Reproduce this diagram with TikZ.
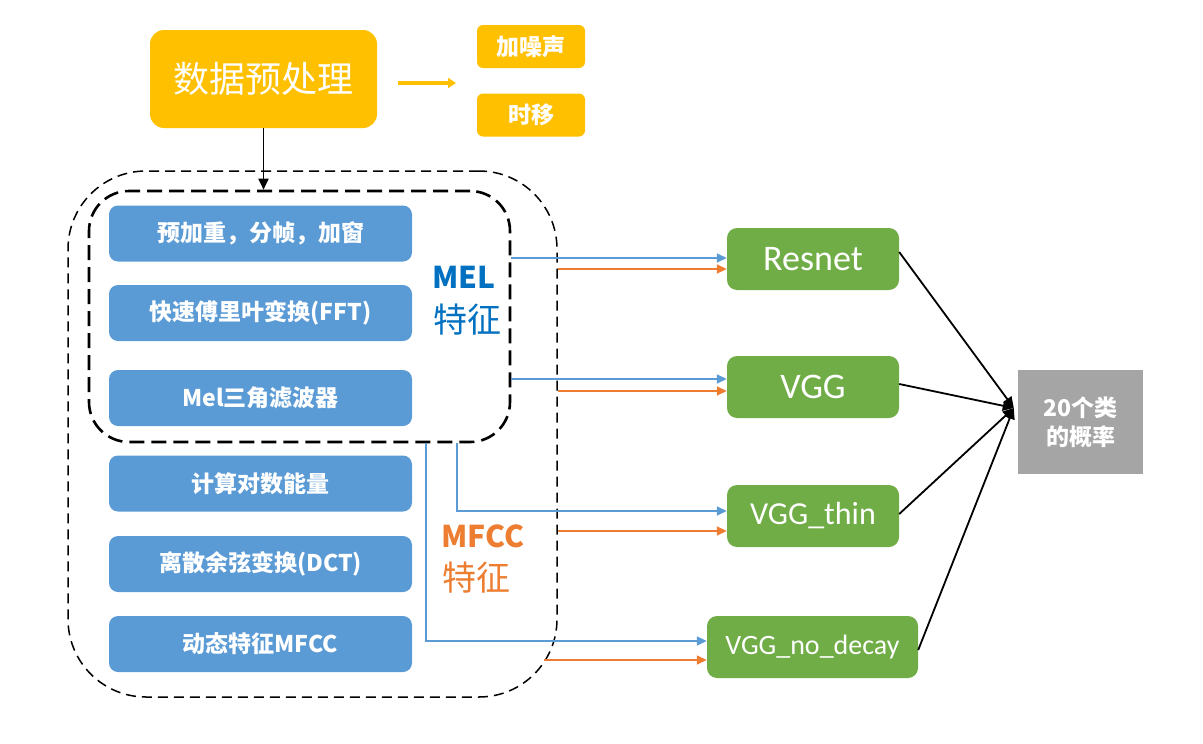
\documentclass[tikz,border=0pt]{standalone}
\usepackage{fontspec}
\setmainfont{Carlito}
\newfontfamily\cjk{Noto Sans CJK SC}
\usetikzlibrary{arrows.meta,calc}
\definecolor{cYel}{HTML}{FFC000}
\definecolor{cBlue}{HTML}{5B9BD5}
\definecolor{cGreen}{HTML}{70AD47}
\definecolor{cGray}{HTML}{A5A5A5}
\definecolor{cMel}{HTML}{0070C0}
\definecolor{cOra}{HTML}{ED7D31}
\tikzset{
  prebox/.style={fill=cYel,rounded corners=14pt,minimum width=227pt,minimum height=98pt,text=white,font=\cjk\fontsize{36}{40}\selectfont},
  augbox/.style={fill=cYel,rounded corners=6pt,minimum width=108pt,minimum height=43pt,text=white,font=\cjk\bfseries\fontsize{23}{26}\selectfont},
  stepbox/.style={fill=cBlue,rounded corners=9pt,minimum width=303pt,minimum height=56pt,text=white,font=\cjk\bfseries\fontsize{23}{26}\selectfont},
  netbox/.style={fill=cGreen,rounded corners=10pt,minimum width=172pt,minimum height=62pt,text=white,font=\fontsize{32}{36}\selectfont},
  outbox/.style={fill=cGray,minimum width=125pt,minimum height=104pt,text=white,align=center,font=\cjk\bfseries\fontsize{23}{29}\selectfont},
  blueln/.style={draw=cBlue,line width=1.5pt,-{Triangle[length=10pt,width=9pt]}},
  orangeln/.style={draw=cOra,line width=1.5pt,-{Triangle[length=10pt,width=9pt]}},
  blackln/.style={draw=black,line width=1.8pt,-{Triangle[length=11pt,width=10pt]}},
}
\begin{document}
\begin{tikzpicture}[x=1pt,y=-1pt]
\useasboundingbox (0,0) rectangle (1203,744);
% preprocessing
\node[prebox] (pre) at (263.5,79) {数据预处理};
\node[augbox] (noise) at (531,46.5) {加噪声};
\node[augbox] (shift) at (531,115) {时移};
\coordinate (oa1) at (398,83);
\coordinate (oa2) at (456,83);
\draw[draw=cYel,line width=4pt,-{Triangle[length=8pt,width=10pt]}] (oa1) -- (oa2);
% dashed containers
\node[draw,line width=1.5pt,dash pattern=on 10pt off 6pt,rounded corners=78pt,minimum width=489pt,minimum height=526pt] (mfcc) at (312.5,434) {};
\node[draw,line width=2.6pt,dash pattern=on 15pt off 7pt,rounded corners=40pt,minimum width=421pt,minimum height=251pt] (mel) at (299.5,316.5) {};
\draw[blackln] (pre.south) -- (pre.south |- mel.north);
% steps
\node[stepbox] (s1) at (260.5,233.5) {预加重，分帧，加窗};
\node[stepbox] (s2) at (260.5,313) {快速傅里叶变换(FFT)};
\node[stepbox] (s3) at (260.5,398) {Mel三角滤波器};
\node[stepbox] (s4) at (260.5,483.5) {计算对数能量};
\node[stepbox] (s5) at (260.5,564) {离散余弦变换(DCT)};
\node[stepbox] (s6) at (260.5,644) {动态特征MFCC};
% labels
\node[text=cMel,font=\cjk\bfseries\fontsize{30}{34}\selectfont] (mellab) at (464,277) {MEL};
\node[text=cMel,font=\cjk\fontsize{34}{38}\selectfont] (meltz) at (467,320) {特征};
\node[text=cOra,font=\cjk\bfseries\fontsize{30}{34}\selectfont] (mfcclab) at (483,536) {MFCC};
\node[text=cOra,font=\cjk\fontsize{34}{38}\selectfont] (mfcctz) at (476,578) {特征};
% networks
\node[netbox,font=\fontsize{36}{40}\selectfont] (resnet) at (813,259) {Resnet};
\node[netbox,font=\fontsize{36}{40}\selectfont] (vgg) at (813,387) {VGG};
\node[netbox] (thin) at (813,516) {VGG\_thin};
\node[netbox,minimum width=211pt,font=\fontsize{28}{32}\selectfont] (nodecay) at (812.5,647) {VGG\_no\_decay};
\node[outbox] (prob) at (1080.5,422) {20个类\\的概率};
% feature connectors
\coordinate (r1) at ([yshift=1pt]resnet.west);
\coordinate (r2) at ([yshift=-10pt]resnet.west);
\coordinate (v1) at ([yshift=8pt]vgg.west);
\coordinate (v2) at ([yshift=-4pt]vgg.west);
\coordinate (t1) at ([yshift=5pt]thin.west);
\coordinate (t2) at ([yshift=-15pt]thin.west);
\coordinate (n1) at ([yshift=6pt]nodecay.west);
\coordinate (n2) at ([yshift=-13pt]nodecay.west);
\coordinate (m1) at ([xshift=126.5pt]mel.south);
\coordinate (m2) at ([xshift=157.5pt]mel.south);
\coordinate (n2b) at (mfcc.east |- n2);
\draw[blueln] (mel.east |- r1) -- (r1);
\draw[orangeln] (mfcc.east |- r2) -- (r2);
\draw[blueln] (mel.east |- v1) -- (v1);
\draw[orangeln] (mfcc.east |- v2) -- (v2);
\draw[blueln] (m2) |- (t1);
\draw[orangeln] (mfcc.east |- t2) -- (t2);
\draw[blueln] (m1) |- (n1);
\draw[orangeln] ($(n2b)+(-14,0)$) -- (n2);
% outputs
\coordinate (hub) at ([xshift=-4pt,yshift=14pt]prob.west);
\draw[blackln] ([yshift=7pt]resnet.east) -- (hub);
\draw[blackln] ([yshift=3pt]vgg.east) -- (hub);
\draw[blackln] ([yshift=2pt]thin.east) -- (hub);
\draw[blackln] ([yshift=-3pt]nodecay.east) -- (hub);
\end{tikzpicture}
\end{document}
